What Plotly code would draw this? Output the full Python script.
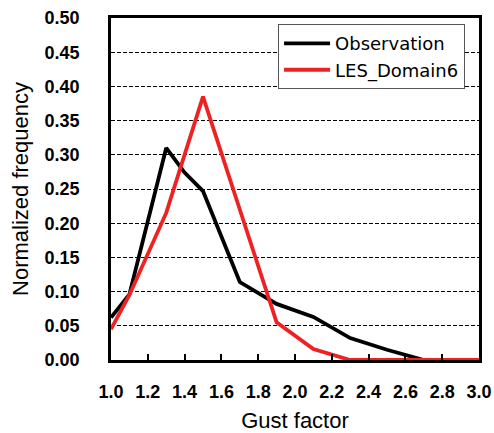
import plotly.graph_objects as go

obs_x = [1.0, 1.1, 1.3, 1.4, 1.5, 1.7, 1.9, 2.1, 2.3, 2.5, 2.7, 2.9, 3.0]
obs_y = [0.062, 0.096, 0.310, 0.274, 0.247, 0.114, 0.082, 0.063, 0.032, 0.015, 0.0, 0.0, 0.0]

les_x = [1.0, 1.1, 1.3, 1.5, 1.7, 1.9, 2.1, 2.3, 2.5, 2.7, 2.9, 3.0]
les_y = [0.045, 0.095, 0.215, 0.385, 0.220, 0.055, 0.016, 0.0, 0.0, 0.0, 0.0, 0.0]

x_ticks = [1.0, 1.2, 1.4, 1.6, 1.8, 2.0, 2.2, 2.4, 2.6, 2.8, 3.0]
y_ticks = [0.0, 0.05, 0.10, 0.15, 0.20, 0.25, 0.30, 0.35, 0.40, 0.45, 0.50]

fig = go.Figure()
fig.add_trace(go.Scatter(x=obs_x, y=obs_y, mode="lines", name="Observation",
                         legendgroup="a",
                         line=dict(color="#000000", width=3.8), cliponaxis=True))
fig.add_trace(go.Scatter(x=les_x, y=les_y, mode="lines", name="LES_Domain6",
                         legendgroup="b",
                         line=dict(color="#ee2222", width=3.8), cliponaxis=False))

tickfont = dict(family="Liberation Sans, Arial, sans-serif", size=18,
                color="#000000", weight="bold")
titlefont = dict(family="Liberation Sans, Arial, sans-serif", size=22, color="#000000")

fig.update_layout(
    width=494, height=433,
    margin=dict(l=111, r=15, t=18, b=73),
    paper_bgcolor="white", plot_bgcolor="white",
    showlegend=True,
    legend=dict(x=0.454, y=0.982, xanchor="left", yanchor="top",
                bgcolor="white", bordercolor="#555555", borderwidth=1,
                font=dict(family="DejaVu Sans, sans-serif", size=18, color="#000000"),
                traceorder="grouped", tracegroupgap=0, itemwidth=46),
    xaxis=dict(range=[1.0, 3.0], tickvals=x_ticks, tickformat=".1f",
               ticks="inside", ticklen=6, tickwidth=1.5, tickcolor="#000000",
               showline=True, linecolor="#000000", linewidth=2.5, mirror=True,
               showgrid=False, zeroline=False, automargin=False,
               ticklabeloverflow="allow",
               tickfont=tickfont, ticklabelstandoff=14,
               title=dict(text="Gust factor", font=titlefont, standoff=16)),
    yaxis=dict(range=[0.0, 0.5], tickvals=y_ticks, tickformat=".2f",
               ticks="", showline=True, linecolor="#000000", linewidth=2.5, mirror=True,
               showgrid=True, gridcolor="#000000", gridwidth=1, griddash="4px,2px",
               zeroline=False, automargin=False, ticklabeloverflow="allow",
               tickfont=tickfont, ticklabelstandoff=25,
               title=dict(text="Normalized frequency", font=titlefont, standoff=10)),
)

# remove the default page margin so the 494x433 figure fills the window exactly
fig.write_html("out.html",
               config={"displayModeBar": False},
               post_script="document.body.style.margin='0';"
                           "document.body.style.overflow='hidden';")
